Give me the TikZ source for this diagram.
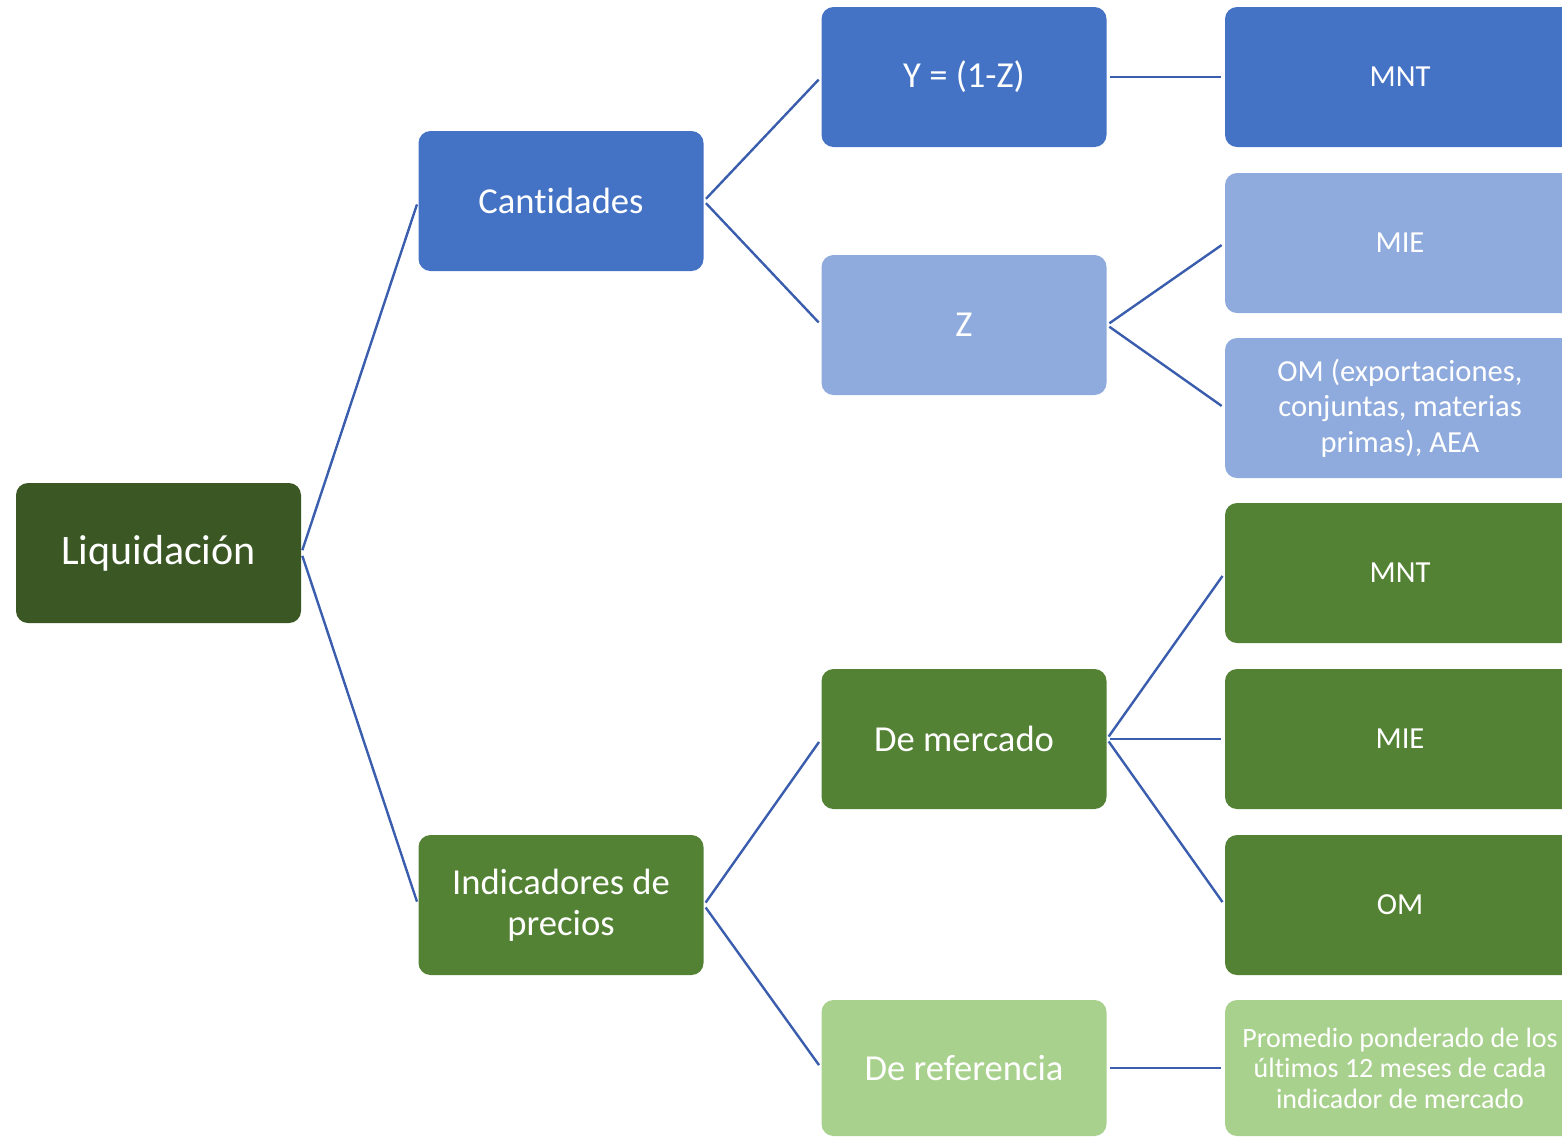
\documentclass[tikz,border=0pt]{standalone}
\usepackage{fontspec}
\setmainfont{Carlito}[RawFeature={-liga;-clig;-calt;-dlig}]
\definecolor{dblue}{HTML}{4472C4}
\definecolor{lblue}{HTML}{8FAADC}
\definecolor{dgreen}{HTML}{3A5724}
\definecolor{mgreen}{HTML}{548235}
\definecolor{lgreen}{HTML}{A9D18E}
\definecolor{linec}{HTML}{3A5DAE}
\begin{document}
\begin{tikzpicture}[x=0.5pt,y=-0.5pt,
  box/.style={rectangle,rounded corners=6pt,inner sep=0pt,text=white,align=center,
    minimum width=142.5pt,minimum height=70pt},
  rbox/.style={box,minimum width=175pt},
  fA/.style={font=\fontsize{21}{25}\selectfont},
  fB/.style={font=\fontsize{18.3}{20.5}\selectfont},
  fC/.style={font=\fontsize{15.3}{17.8}\selectfont},
  fD/.style={font=\fontsize{14}{15.3}\selectfont},
  conn/.style={draw=linec,line width=1.2pt,shorten <=1.5pt,shorten >=1.8pt}]
\useasboundingbox (0,0) rectangle (1562,1137);
\clip (0,0) rectangle (1562,1137);
% root
\node[box,fA,fill=dgreen] (root) at (158.5,553) {Liquidación};
% level 1
\node[box,fB,fill=dblue] (cant) at (561,201) {Cantidades};
\node[box,fB,fill=mgreen] (ind) at (561,905) {Indicadores de\\precios};
% level 2
\node[box,fB,fill=dblue] (y) at (964,77) {Y = (1-Z)};
\node[box,fB,fill=lblue] (z) at (964,325) {Z};
\node[box,fB,fill=mgreen] (merc) at (964,739) {De mercado};
\node[box,fB,fill=lgreen,minimum height=68pt] (ref) at (964,1068) {De referencia};
% level 3
\node[rbox,fC,fill=dblue] (mnt1) at (1400,77) {MNT};
\node[rbox,fC,fill=lblue] (mie1) at (1400,243) {MIE};
\node[rbox,fC,fill=lblue] (om1) at (1400,408) {OM (exportaciones,\\conjuntas, materias\\primas), AEA};
\node[rbox,fC,fill=mgreen] (mnt2) at (1400,573) {MNT};
\node[rbox,fC,fill=mgreen] (mie2) at (1400,739) {MIE};
\node[rbox,fC,fill=mgreen] (om2) at (1400,905) {OM};
\node[rbox,fD,fill=lgreen,minimum height=68pt] (prom) at (1400,1068) {Promedio ponderado de los\\últimos 12 meses de cada\\indicador de mercado};
% connectors
\draw[conn] (root.east) -- (cant.west);
\draw[conn] (root.east) -- (ind.west);
\draw[conn] (cant.east) -- (y.west);
\draw[conn] (cant.east) -- (z.west);
\draw[conn] (y.east) -- (mnt1.west);
\draw[conn] (z.east) -- (mie1.west);
\draw[conn] (z.east) -- (om1.west);
\draw[conn] (ind.east) -- (merc.west);
\draw[conn] (ind.east) -- (ref.west);
\draw[conn] (merc.east) -- (mnt2.west);
\draw[conn] (merc.east) -- (mie2.west);
\draw[conn] (merc.east) -- (om2.west);
\draw[conn] (ref.east) -- (prom.west);
\end{tikzpicture}
\end{document}
